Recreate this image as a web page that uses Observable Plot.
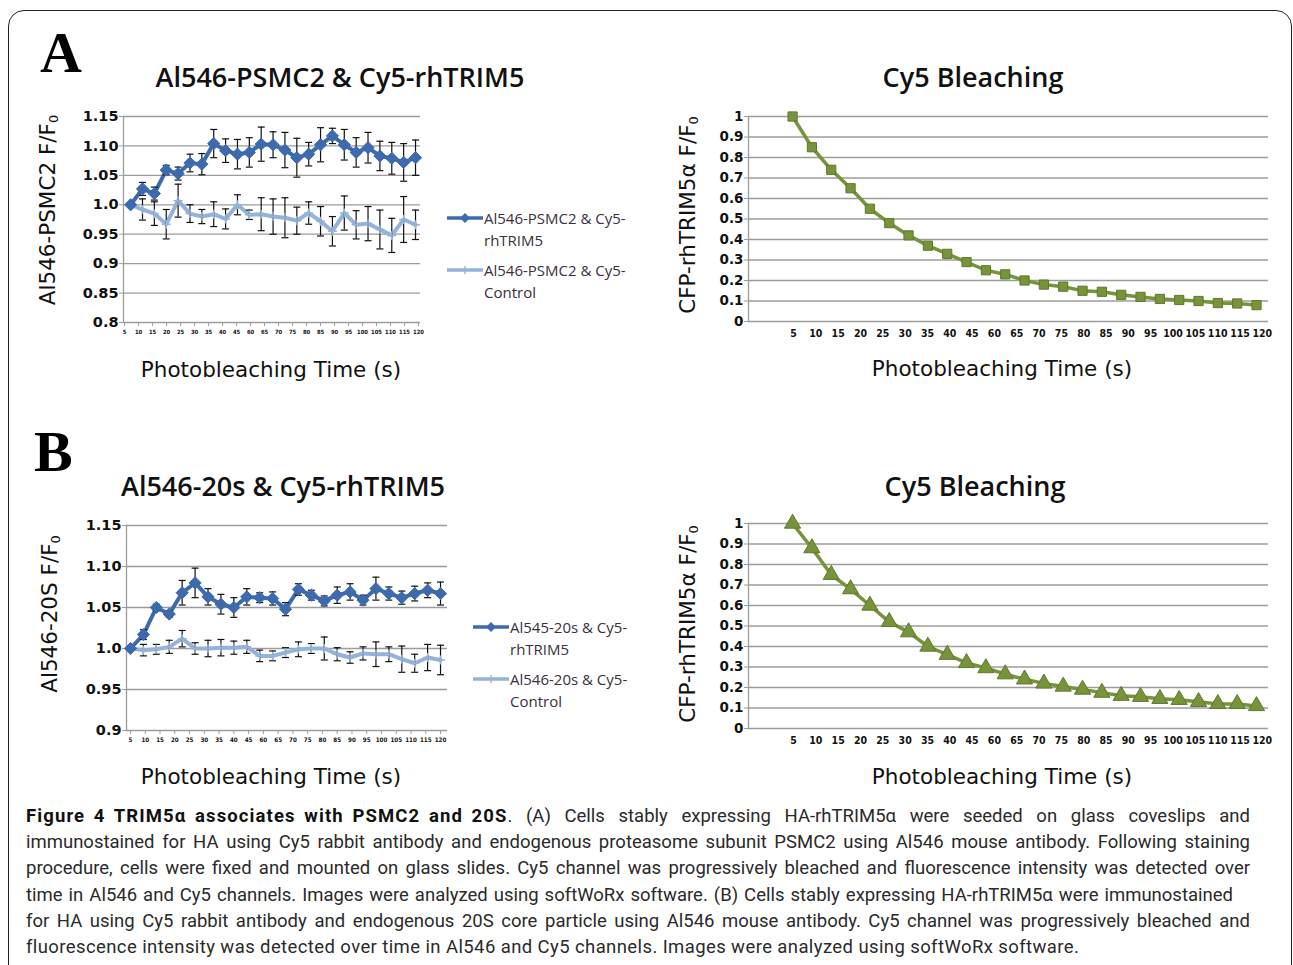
<!DOCTYPE html>
<html>
<head>
<meta charset="utf-8">
<script src="https://cdn.jsdelivr.net/npm/d3@7"></script>
<script src="https://cdn.jsdelivr.net/npm/@observablehq/plot@0.6"></script>
<style>
  html, body { margin: 0; padding: 0; background: #fff; }
  body { width: 1293px; height: 965px; overflow: hidden; position: relative; font-family: "DejaVu Sans", sans-serif; color: #111; }
  .frame { position: absolute; left: 8px; top: 10px; width: 1284px; height: 990px; border: 1.6px solid #222; border-radius: 16px; box-sizing: border-box; }
  .letter { position: absolute; font-family: "Liberation Serif", serif; font-weight: bold; font-size: 58px; line-height: 1; color: #000; }
  .title { position: absolute; font-family: "Open Sans", sans-serif; font-weight: 600; font-size: 27px; transform: translate(-50%, -50%); white-space: nowrap; color: #111; }
  .xtitle { position: absolute; font-family: "DejaVu Sans", sans-serif; font-size: 21.5px; transform: translate(-50%, -50%); white-space: nowrap; color: #111; }
  .ytitle { position: absolute; font-family: "DejaVu Sans", sans-serif; font-size: 21.5px; transform: translate(-50%, -50%) rotate(-90deg); white-space: nowrap; color: #111; }
  .ytitle sub { font-size: 13px; vertical-align: -3px; }
  .chart { position: absolute; }
  .legend { position: absolute; font-family: "Open Sans", sans-serif; font-size: 15px; color: #3a3040; line-height: 22px; }
  .legend .row { position: relative; padding-left: 37px; margin-bottom: 8px; }
  .legend svg { position: absolute; left: 0; top: 1px; }
  .caption { position: absolute; left: 26px; top: 803px; width: 1224px; font-family: Roboto, "Open Sans", sans-serif; font-size: 18.5px; color: #2a2a2a; }
  .caption .ln { height: 26.2px; line-height: 26.2px; white-space: nowrap; text-align: justify; text-align-last: justify; }
  .caption .ln.last { text-align: left; text-align-last: left; letter-spacing: 0.4px; }
  .caption b { color: #111; display: inline-block; letter-spacing: 1.1px; word-spacing: 3px; }
</style>
</head>
<body>
<div class="frame"></div>
<div class="letter" style="left:40px;top:24px;">A</div>
<div class="letter" style="left:34px;top:423px;">B</div>
<div id="root"></div>
<div class="caption" id="caption"></div>

<script>
// ---------------- data ----------------
const sample = [1,2,3,4,5,6,7,8,9,10,11,12,13,14,15,16,17,18,19,20,21,22,23,24,25];
const xLabels = ["5","10","15","20","25","30","35","40","45","60","65","70","75","80","85","90","95","100","105","110","115","120"];

const yTicksRatioA = [0.8, 0.85, 0.9, 0.95, 1.0, 1.05, 1.10, 1.15];
const yLabelsRatioA = ["0.8","0.85","0.9","0.95","1.0","1.05","1.10","1.15"];
const yTicksRatioB = [0.9, 0.95, 1.0, 1.05, 1.10, 1.15];
const yLabelsRatioB = ["0.9","0.95","1.0","1.05","1.10","1.15"];
const yTicksBleach = [0,0.1,0.2,0.3,0.4,0.5,0.6,0.7,0.8,0.9,1];
const yLabelsBleach = ["0","0.1","0.2","0.3","0.4","0.5","0.6","0.7","0.8","0.9","1"];

// Panel A, left
const psmc2Trim    = [1.000,1.027,1.019,1.059,1.053,1.071,1.069,1.104,1.092,1.086,1.089,1.103,1.102,1.093,1.080,1.086,1.102,1.117,1.102,1.089,1.097,1.083,1.079,1.072,1.080];
const psmc2TrimErr = [0,0.011,0.011,0.008,0.011,0.015,0.018,0.024,0.020,0.025,0.025,0.029,0.022,0.030,0.033,0.020,0.029,0.013,0.026,0.025,0.026,0.025,0.027,0.032,0.030];
const psmc2Ctrl    = [1.000,0.992,0.985,0.967,1.007,0.985,0.980,0.984,0.976,1.000,0.983,0.984,0.980,0.978,0.973,0.986,0.972,0.955,0.986,0.966,0.968,0.958,0.948,0.975,0.966];
const psmc2CtrlErr = [0,0.018,0.020,0.025,0.028,0.015,0.012,0.021,0.017,0.017,0.008,0.028,0.030,0.034,0.023,0.019,0.025,0.025,0.029,0.024,0.029,0.033,0.029,0.039,0.025];
// Panel A, right
const bleachA = [1.00,0.85,0.74,0.65,0.55,0.48,0.42,0.37,0.33,0.29,0.25,0.23,0.20,0.18,0.17,0.15,0.145,0.13,0.12,0.11,0.105,0.10,0.09,0.088,0.08];
// Panel B, left
const s20Trim    = [1.000,1.017,1.050,1.042,1.068,1.080,1.063,1.054,1.050,1.063,1.062,1.061,1.048,1.072,1.065,1.058,1.065,1.069,1.059,1.073,1.067,1.062,1.067,1.071,1.067];
const s20TrimErr = [0,0.006,0.004,0.004,0.015,0.018,0.010,0.012,0.012,0.010,0.006,0.008,0.008,0.007,0.006,0.006,0.010,0.010,0.006,0.014,0.008,0.008,0.009,0.009,0.014];
const s20Ctrl    = [1.000,0.998,0.999,1.002,1.012,1.000,1.000,1.001,1.001,1.002,0.991,0.991,0.995,0.999,1.000,1.000,0.993,0.989,0.994,0.993,0.993,0.987,0.982,0.989,0.986];
const s20CtrlErr = [0,0.007,0.006,0.008,0.010,0.007,0.010,0.010,0.008,0.008,0.007,0.006,0.006,0.009,0.006,0.014,0.008,0.007,0.008,0.015,0.009,0.016,0.011,0.016,0.018];
// Panel B, right
const bleachB = [1.00,0.88,0.75,0.68,0.60,0.52,0.47,0.40,0.36,0.32,0.295,0.265,0.24,0.22,0.205,0.19,0.175,0.16,0.155,0.145,0.14,0.13,0.12,0.12,0.11];

// ---------------- styles ----------------
const DARK = "#3d6aad";
const LIGHT = "#95b3d9";
const GREEN = "#77933c";
const GREEN_EDGE = "#5f7a2a";
const GRID = "#9c9c9c";

const capSymbol = {
  draw(context, size) {
    const w = Math.sqrt(size / Math.PI);
    context.moveTo(-w, 0);
    context.lineTo(w, 0);
  }
};

function rowsOf(values, errors) {
  return sample.map((s, i) => ({s, v: values[i], e: errors ? errors[i] : 0}));
}

function addPanel(cfg) {
  const mr = 14, mb = 30;
  const marginLeft = cfg.plotLeft - cfg.svgLeft;
  const marginTop = cfg.plotTop - cfg.svgTop;
  const width = cfg.plotRight - cfg.svgLeft + mr;
  const height = cfg.plotBottom - cfg.svgTop + mb;
  const n = xLabels.length;
  const xPos = xLabels.map((_, i) => cfg.labelRange[0] + i * (cfg.labelRange[1] - cfg.labelRange[0]) / (n - 1));
  const yMap = new Map(cfg.yTicks.map((t, i) => [t, cfg.yLabels[i]]));

  const marks = [
    Plot.ruleY(cfg.yTicks, {stroke: GRID, strokeWidth: 1.3}),
    Plot.ruleX([cfg.xDomain[0]], {stroke: GRID, strokeWidth: 1.3}),
    Plot.axisY({ticks: cfg.yTicks, tickFormat: d => yMap.get(d), tickSize: 4, tickPadding: 1, label: null,
      stroke: GRID, fill: "#111", fontSize: cfg.yFont, fontWeight: "bold", fontFamily: "DejaVu Sans"}),
    Plot.axisX({ticks: xPos, tickFormat: d => xLabels[xPos.indexOf(d)], tickSize: cfg.xTickSize, tickPadding: cfg.xPad, label: null,
      stroke: GRID, fill: "#111", fontSize: cfg.xFont, fontWeight: "bold", fontFamily: cfg.xFamily})
  ];
  for (const sr of cfg.series) {
    const rows = rowsOf(sr.values, sr.errors);
    marks.push(Plot.line(rows, {x: "s", y: "v", stroke: sr.color, strokeWidth: sr.lineWidth}));
  }
  for (const sr of cfg.series) {
    const rows = rowsOf(sr.values, sr.errors);
    if (sr.errors) {
      const er = rows.filter(d => d.e > 0);
      marks.push(Plot.ruleX(er, {x: "s", y1: d => d.v - d.e, y2: d => d.v + d.e, stroke: "#111", strokeWidth: 1.2}));
      marks.push(Plot.dot(er, {x: "s", y: d => d.v + d.e, symbol: capSymbol, r: cfg.capR, stroke: "#111", strokeWidth: 1.2, fill: "none"}));
      marks.push(Plot.dot(er, {x: "s", y: d => d.v - d.e, symbol: capSymbol, r: cfg.capR, stroke: "#111", strokeWidth: 1.2, fill: "none"}));
    }
    if (sr.symbol) {
      marks.push(Plot.dot(rows, {x: "s", y: "v", symbol: sr.symbol, r: sr.r, fill: sr.fill, stroke: sr.stroke, strokeWidth: sr.strokeWidth || 1}));
    }
  }

  const svg = Plot.plot({
    width, height, marginLeft, marginTop, marginRight: mr, marginBottom: mb,
    x: {domain: cfg.xDomain, axis: null},
    y: {domain: cfg.yDomain, axis: null},
    style: {background: "transparent", fontFamily: "DejaVu Sans", overflow: "visible"},
    marks
  });
  const div = document.createElement("div");
  div.className = "chart";
  div.style.left = cfg.svgLeft + "px";
  div.style.top = cfg.svgTop + "px";
  div.appendChild(svg);
  document.getElementById("root").appendChild(div);
}

addPanel({
  svgLeft: 60, svgTop: 100, plotLeft: 123, plotRight: 420, plotTop: 116, plotBottom: 322,
  xDomain: [0.4, 25.42], yDomain: [0.8, 1.15], labelRange: [0.49, 25.25],
  yTicks: yTicksRatioA, yLabels: yLabelsRatioA, yFont: 14.5, xFont: 5.8, xFamily: "DejaVu Sans Condensed, DejaVu Sans", xTickSize: 4, xPad: 3, capR: 3.5,
  series: [
    {values: psmc2Ctrl, errors: psmc2CtrlErr, color: LIGHT, lineWidth: 4, symbol: "plus", r: 3, fill: "none", stroke: LIGHT, strokeWidth: 1.5},
    {values: psmc2Trim, errors: psmc2TrimErr, color: DARK, lineWidth: 4, symbol: "diamond2", r: 5.5, fill: DARK, stroke: DARK}
  ]
});

addPanel({
  svgLeft: 700, svgTop: 100, plotLeft: 748, plotRight: 1268, plotTop: 116, plotBottom: 321,
  xDomain: [-1.28, 25.62], yDomain: [0, 1], labelRange: [1.05, 25.3],
  yTicks: yTicksBleach, yLabels: yLabelsBleach, yFont: 13.5, xFont: 10.5, xFamily: "DejaVu Sans Condensed, DejaVu Sans", xTickSize: 0, xPad: 8, capR: 3,
  series: [
    {values: bleachA, color: GREEN, lineWidth: 3.5, symbol: "square", r: 5.2, fill: GREEN, stroke: GREEN_EDGE}
  ]
});

addPanel({
  svgLeft: 60, svgTop: 510, plotLeft: 126, plotRight: 447, plotTop: 525, plotBottom: 730,
  xDomain: [0.69, 25.54], yDomain: [0.9, 1.15], labelRange: [1, 25],
  yTicks: yTicksRatioB, yLabels: yLabelsRatioB, yFont: 14.5, xFont: 6.2, xFamily: "DejaVu Sans Condensed, DejaVu Sans", xTickSize: 4, xPad: 3, capR: 3.5,
  series: [
    {values: s20Ctrl, errors: s20CtrlErr, color: LIGHT, lineWidth: 4, symbol: "plus", r: 3, fill: "none", stroke: LIGHT, strokeWidth: 1.5},
    {values: s20Trim, errors: s20TrimErr, color: DARK, lineWidth: 4, symbol: "diamond2", r: 5.5, fill: DARK, stroke: DARK}
  ]
});

addPanel({
  svgLeft: 700, svgTop: 508, plotLeft: 748, plotRight: 1268, plotTop: 523, plotBottom: 728,
  xDomain: [-1.28, 25.62], yDomain: [0, 1], labelRange: [1.05, 25.3],
  yTicks: yTicksBleach, yLabels: yLabelsBleach, yFont: 13.5, xFont: 10.5, xFamily: "DejaVu Sans Condensed, DejaVu Sans", xTickSize: 0, xPad: 8, capR: 3,
  series: [
    {values: bleachB, color: GREEN, lineWidth: 3.5, symbol: "triangle", r: 6, fill: GREEN, stroke: GREEN_EDGE}
  ]
});

// ---------------- text ----------------
const root = document.getElementById("root");
function addText(cls, x, y, html) {
  const d = document.createElement("div");
  d.className = cls;
  d.style.left = x + "px";
  d.style.top = y + "px";
  d.innerHTML = html;
  root.appendChild(d);
}
addText("title", 340, 76, "Al546-PSMC2 &amp; Cy5-rhTRIM5");
addText("title", 973, 76, "Cy5 Bleaching");
addText("title", 283, 485, "Al546-20s &amp; Cy5-rhTRIM5");
addText("title", 975, 485, "Cy5 Bleaching");
addText("xtitle", 271, 369, "Photobleaching Time (s)");
addText("xtitle", 1002, 368, "Photobleaching Time (s)");
addText("xtitle", 271, 776, "Photobleaching Time (s)");
addText("xtitle", 1002, 776, "Photobleaching Time (s)");
addText("ytitle", 48, 210, "Al546-PSMC2 F/F<sub>0</sub>");
addText("ytitle", 688, 215, "CFP-rhTRIM5α F/F<sub>0</sub>");
addText("ytitle", 50, 614, "Al546-20S F/F<sub>0</sub>");
addText("ytitle", 688, 624, "CFP-rhTRIM5α F/F<sub>0</sub>");

function swatch(color, kind) {
  const m = kind === "diamond"
    ? `<path d="M18,5 L23,10 L18,15 L13,10 Z" fill="${color}"/>`
    : `<line x1="18" x2="18" y1="6" y2="14" stroke="${color}" stroke-width="1.4"/>`;
  return `<svg width="36" height="20"><line x1="0" x2="36" y1="10" y2="10" stroke="${color}" stroke-width="3.5"/>${m}</svg>`;
}
function addLegend(x, y, entries) {
  const d = document.createElement("div");
  d.className = "legend";
  d.style.left = x + "px";
  d.style.top = y + "px";
  d.innerHTML = entries.map(e => `<div class="row">${swatch(e.color, e.kind)}${e.lines.join("<br>")}</div>`).join("");
  root.appendChild(d);
}
addLegend(447, 207, [
  {color: DARK, kind: "diamond", lines: ["Al546-PSMC2 &amp; Cy5-", "rhTRIM5"]},
  {color: LIGHT, kind: "plus", lines: ["Al546-PSMC2 &amp; Cy5-", "Control"]}
]);
addLegend(473, 616, [
  {color: DARK, kind: "diamond", lines: ["Al545-20s &amp; Cy5-", "rhTRIM5"]},
  {color: LIGHT, kind: "plus", lines: ["Al546-20s &amp; Cy5-", "Control"]}
]);

const captionLines = [
  "<b>Figure 4 TRIM5α associates with PSMC2 and 20S</b>. (A) Cells stably expressing HA-rhTRIM5α were seeded on glass coveslips and",
  "immunostained for HA using Cy5 rabbit antibody and endogenous proteasome subunit PSMC2 using Al546 mouse antibody. Following staining",
  "procedure, cells were fixed and mounted on glass slides. Cy5 channel was progressively bleached and fluorescence intensity was detected over",
  "time in Al546 and Cy5 channels. Images were analyzed using softWoRx software. (B) Cells stably expressing HA-rhTRIM5α were immunostained",
  "for HA using Cy5 rabbit antibody and endogenous 20S core particle using Al546 mouse antibody. Cy5 channel was progressively bleached and",
  "fluorescence intensity was detected over time in Al546 and Cy5 channels. Images were analyzed using softWoRx software."
];
document.getElementById("caption").innerHTML = captionLines.map((l, i) =>
  `<div class="ln${i === captionLines.length - 1 ? " last" : ""}"${i === 3 ? ' style="width:1207px"' : ""}>${l}</div>`).join("");
</script>
</body>
</html>
